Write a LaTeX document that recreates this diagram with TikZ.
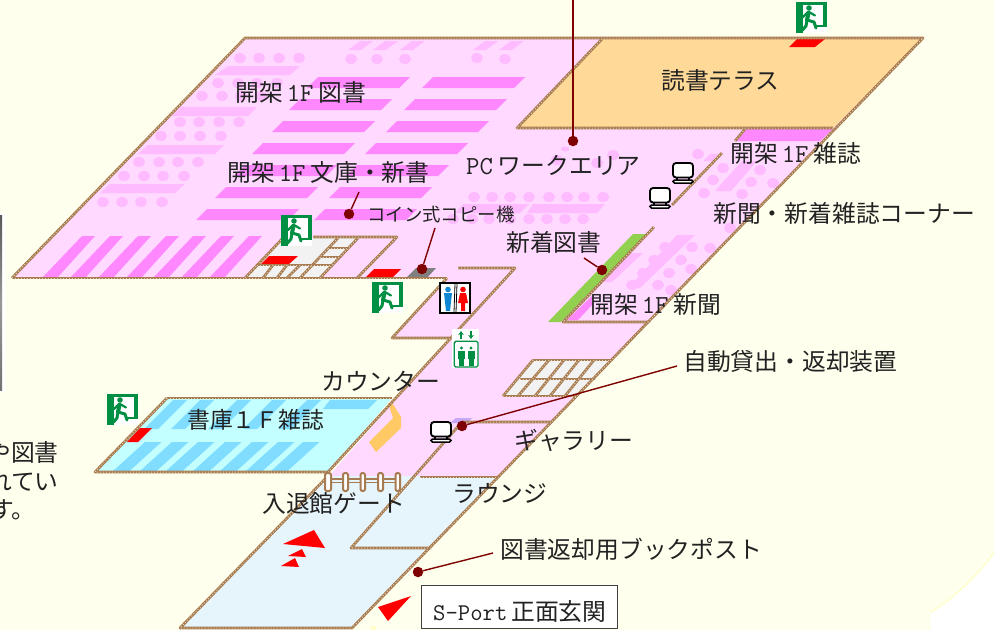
\documentclass[tikz,border=0pt]{standalone}
\usepackage{fontspec}
\setmainfont{Noto Sans CJK JP}
\newcommand\ltn[1]{{\ttfamily\fontsize{26}{26}\selectfont #1}}
\definecolor{cream}{HTML}{FFFFEE}
\definecolor{arcy}{HTML}{FFFFCC}
\definecolor{floorp}{HTML}{FFD9FF}
\definecolor{shelfd}{HTML}{FF88FF}
\definecolor{shelfl}{HTML}{FFBBFF}
\definecolor{terr}{HTML}{FFD998}
\definecolor{lounge}{HTML}{E6F4FB}
\definecolor{store}{HTML}{C4FFFF}
\definecolor{stripe}{HTML}{80DDFF}
\definecolor{ropeb}{HTML}{A87C52}
\definecolor{ropel}{HTML}{E2CDAE}
\definecolor{lead}{HTML}{7E0000}
\definecolor{exitg}{HTML}{008F43}
\definecolor{leaf}{HTML}{92D050}
\definecolor{arrowo}{HTML}{FFC966}
\definecolor{purp}{HTML}{C8A8F8}
\definecolor{txt}{HTML}{222222}
\usetikzlibrary{arrows.meta}
\tikzset{
  rope/.style={draw=ropeb,line width=2.7pt,line join=round,postaction={draw=ropel,line width=1pt,dash pattern=on 1pt off 2pt}},
  dk/.style={fill=shelfd},
  lt/.style={fill=shelfl},
  leaddot/.style={circle,fill=lead,inner sep=0pt,minimum size=10.5pt},
  leadline/.style={draw=lead,line width=1.4pt},
  lab/.style={anchor=west,inner sep=0pt,text=txt,font=\fontsize{23.8}{24}\selectfont},
  storelab/.style={anchor=west,inner sep=0pt,text=txt,font=\fontsize{22.8}{24}\selectfont},
  smalllab/.style={anchor=west,inner sep=0pt,text=txt,font=\fontsize{18.4}{20}\selectfont},
  exitsign/.pic={
    \fill[exitg] (0,0) rectangle (31,31);
    \fill[white] (7,3) rectangle (27,31);
    \fill[white] (27,25) rectangle (31,31);
    \fill[exitg] (13,6) circle (2.8);
    \draw[exitg,line width=4pt,line cap=round,line join=round] (12.5,11) -- (11,18);
    \draw[exitg,line width=3pt,line cap=round,line join=round] (11,18) -- (18,20) -- (20,26);
    \draw[exitg,line width=3pt,line cap=round,line join=round] (11,18) -- (10,24) -- (6.5,28);
    \draw[exitg,line width=2.2pt,line cap=round,line join=round] (13,10) -- (19,13.5);
    \draw[exitg,line width=2.2pt,line cap=round,line join=round] (12,10) -- (7,15);
    \fill[exitg] (20,22.5) rectangle (31,25);
  },
  pcicon/.pic={
    \draw[black,fill=white,line width=1.8pt,rounded corners=3pt] (1,1) rectangle (21,15.5);
    \draw[black,fill=white,line width=1.5pt,rounded corners=1.5pt] (1,18) rectangle (21,21);
    \draw[black,line width=1.5pt] (5,15.5) -- (5,18) (17,15.5) -- (17,18);
  },
  wcicon/.pic={
    \draw[black,fill=white,line width=1.2pt] (0,0) rectangle (30,30);
    \draw[black,line width=0.8pt] (15,1) -- (14,29) (17,1) -- (16,29);
    \fill[cyan!70!blue] (8,6.5) circle (2.8);
    \fill[cyan!70!blue] (4,10) -- (12,10) -- (11,19) -- (10,28) -- (6,28) -- (5,19) -- cycle;
    \fill[red] (23,6.5) circle (2.8);
    \fill[red] (20,10) -- (26,10) -- (28,20) -- (25,20) -- (25,28) -- (21,28) -- (21,20) -- (18,20) -- cycle;
  },
  eleicon/.pic={
    \fill[white] (0,0) rectangle (27,39);
    \draw[exitg,line width=1.8pt,-{Stealth[length=4pt,width=5.5pt]}] (9,10) -- (9,2);
    \draw[exitg,line width=1.8pt,-{Stealth[length=4pt,width=5.5pt]}] (19,2) -- (19,10);
    \draw[exitg,line width=1.3pt,rounded corners=1.5pt] (2.3,12.3) rectangle (26,38);
    \foreach \px in {9.5,19}{
      \fill[exitg] (\px,19) circle (1.7);
      \fill[exitg] (\px-3.5,21.5) rectangle (\px+3.5,30);
      \fill[exitg] (\px-2.5,30) rectangle (\px+2.5,36.5);
    }
  },
}
\begin{document}
\begin{tikzpicture}[x=1pt,y=-1pt]
\useasboundingbox (0,0) rectangle (994,630);
% background
\fill[white] (0,0) rectangle (994,630);
\fill[cream] (0,0) -- (994,0) -- (994,553) .. controls (975,578) and (955,597) .. (931,612) -- (931,630) -- (0,630) -- cycle;
\draw[arcy,line width=1.5pt] (994,553) .. controls (975,578) and (955,597) .. (931,612);
\fill[arcy] (371,626) rectangle (376,630);
% photo sliver
\fill[white] (0,213) rectangle (5,392);
\shade[top color=black!65,bottom color=black!55,middle color=black!40] (0,215) rectangle (2,390);
% floors
\fill[floorp] (245,38) -- (923,38) -- (498,477) -- (328,477) -- (450,338) -- (392,338) -- (447,278) -- (12,278) -- cycle;
\fill[lounge] (180,628) -- (330,476) -- (498,476) -- (352,628) -- cycle;
\fill[store] (167,398) -- (392,398) -- (328,472) -- (95,472) -- cycle;
\fill[terr] (602,38) -- (923,38) -- (833,128) -- (517,128) -- cycle;
% left shelves dark
\foreach \tl/\ty in {318/77,300/99,283/121,263/143,245/165,226/187,207/209,433/77,415/99,397/121,376/143,357/165,340/187,325/209}
  \fill[dk] (\tl,\ty) -- ++(92,0) -- ++(-11,11) -- ++(-92,0) -- cycle;
% top small shelves
\foreach \bl in {348,373,400,473,499}
  \fill[lt] (\bl,50) -- ++(12,-9) -- ++(13,0) -- ++(-12,9) -- cycle;
\foreach \cx/\cy in {351/59,377/59,405/59,477/58,505/59,
  240/58,259/58,279/58,299/58,
  218/83,238/83,257/83,277/83,202/96,222/96,241/96,261/96,
  180/122,199/122,219/122,239/122,161/136,180/136,200/136,221/136,
  139/162,159/162,178/162,198/162,124/176,144/176,163/176,184/176,
  103/202,122/202,141/202,162/202,
  474/197,492/197,510/197,529/197,549/197,567/197,584/197,603/197,
  453/219,472/219,489/219,510/219,529/219,547/219,565/219,583/219,
  557/160,597/163,613/155,
  698/154,723/168,713/180,704/193,760/170,751/182,742/194,773/183,730/228,
  665/247,654/260,643/273,632/285,692/247,681/260,669/273,658/285,710/248,691/269,671/290}
  \fill[lt] (\cx,\cy) ellipse (6 and 5);
\fill[lt] (565,149) ellipse (4 and 2.5);
\fill[lt] (228,66) -- (300,66) -- (290,75) -- (215,75) -- cycle;
\fill[lt] (181,107) -- (257,107) -- (248,116) -- (172,116) -- cycle;
\fill[lt] (148,145) -- (224,145) -- (215,154) -- (138,154) -- cycle;
\fill[lt] (110,184) -- (185,184) -- (175,193) -- (100,193) -- cycle;
\fill[lt] (463,204) -- (529,204) -- (520,213) -- (455,213) -- cycle;
\fill[lt] (533,204) -- (605,204) -- (597,213) -- (527,213) -- cycle;
\fill[lt] (703,161) -- (710,154) -- (718,154) -- (712,161) -- cycle;
\fill[lt] (715,191) -- (731,191) -- (757,161) -- (742,161) -- cycle;
\fill[lt] (600,282) -- (612,282) -- (643,253) -- (627,253) -- cycle;
\fill[lt] (628,288) -- (677,235) -- (695,235) -- (640,288) -- cycle;
% diagonal stripes
\foreach \tl in {82,110,138,166,193,221,249}
  \fill[dk] (\tl,236) -- ++(13,0) -- (\tl-24,277) -- (\tl-39,277) -- cycle;
% magazine strip, green strip
\fill[dk] (745,129) -- (833,129) -- (820,141) -- (735,141) -- cycle;
\fill[leaf] (633,234) -- (646,234) -- (561,322) -- (548,322) -- cycle;
\fill[dk] (567,320) -- (578,320) -- (592,305) -- (592,296) -- cycle;
% store stripes
\foreach \tl in {145,172,198,225,252,278,303}
  \fill[stripe] (\tl,442) -- ++(16.5,0) -- (\tl-15.5,471) -- (\tl-32,471) -- cycle;
\fill[stripe] (330,400) -- (377,400) -- (368,409) -- (323,409) -- cycle;
\foreach \tl in {173,200,237,272,307}
  \fill[stripe] (\tl,400) -- ++(14,0) -- (\tl-15,429) -- (\tl-29,429) -- cycle;
% stair fills
\fill[black!5] (283,238) -- (358,238) -- (320,277) -- (245,277) -- cycle;
\fill[black!5] (533,360) -- (610,360) -- (577,396) -- (503,396) -- cycle;
% red mats, grey, purple
\fill[red] (260,265) -- (288,265) -- (298,256) -- (269,256) -- cycle;
\fill[red] (365,278) -- (392,278) -- (401,269) -- (374,269) -- cycle;
\fill[red] (789,47) -- (815,47) -- (825,39) -- (797,39) -- cycle;
\fill[red] (127,442) -- (138,442) -- (152,428) -- (140,428) -- cycle;
\fill[black!50] (406,278) -- (427,278) -- (436,268) -- (416,268) -- cycle;
\fill[purp] (450,423) -- (456,418) -- (472,418) -- (467,423) -- cycle;
% orange arrow
\fill[arrowo] (369,442) -- (393,418) -- (388,403) -- (393,404) -- (401,417) -- (401,428) -- (376,452) -- cycle;
% walls
\path[rope] (12,278) -- (447,278);
\path[rope] (12,278) -- (245,38) -- (923,38) -- (352,628) -- (180,628) -- (328,476);
\path[rope] (602,39) -- (517,128) -- (833,128);
\path[rope] (735,141) -- (745,129);
\path[rope] (722,153) -- (672,205);
\path[rope] (654,227) -- (563,322) -- (648,322);
\path[rope] (447,278) -- (392,338) -- (450,338);
\path[rope] (458,268) -- (515,268) -- (328,472);
\path[rope] (167,398) -- (392,398);
\path[rope] (167,398) -- (95,472) -- (328,472);
\path[rope] (551,422) -- (462,422) -- (351,548) -- (431,548);
\path[rope] (420,477) -- (498,477);
% stairs left
\path[rope] (283,238) -- (245,278);
\path[rope] (313,237) -- (397,237) -- (357,278);
\path[rope] (358,238) -- (320,278);
\path[rope] (338,238) -- (300,278);
\path[rope] (328,248) -- (349,248);
\path[rope] (320,257) -- (340,257);
\path[rope] (257,265) -- (332,265);
\path[rope] (273,265) -- (263,278);
\path[rope] (287,265) -- (277,278);
\path[rope] (300,265) -- (287,278);
% stairs right
\path[rope] (533,360) -- (610,360);
\path[rope] (503,396) -- (577,396);
\path[rope] (520,379) -- (595,379);
\path[rope] (533,360) -- (503,396);
\path[rope] (549,360) -- (518,396);
\path[rope] (564,360) -- (535,396);
\path[rope] (579,360) -- (550,396);
\path[rope] (594,360) -- (565,396);
% gate
\draw[ropeb,line width=1.6pt] (328,479) -- (398,479) (328,482.5) -- (398,482.5);
\foreach \gx/\gw in {325/6,343/5,360.5/4.5,378/5,395.5/4.5}
  \draw[ropeb,fill=white,line width=2pt,rounded corners=2pt] (\gx,473) rectangle (\gx+\gw,491);
% red arrows
\fill[red] (283,544) -- (314,530) -- (325,548) -- cycle;
\fill[red] (288,556) -- (302,549) -- (306,557) -- cycle;
\fill[red] (281,566) -- (295,558) -- (299,567) -- cycle;
\fill[red] (378,607) -- (411,596) -- (388,621) -- cycle;
% icons
\pic (ex1) at (796,2) {exitsign};
\pic (ex2) at (281,215) {exitsign};
\pic (ex3) at (372,282) {exitsign};
\pic (ex4) at (107,394) {exitsign};
\pic (wc) at (440,283) {wcicon};
\pic (ele) at (452,329) {eleicon};
\pic (pc1) at (672,162) {pcicon};
\pic (pc2) at (649,187) {pcicon};
\pic (pc3) at (430,421) {pcicon};
% leaders
\node[leaddot] (d1) at (573,141) {};
\coordinate (e1) at (573,0);
\draw[leadline] (d1) -- (e1);
\node[leaddot] (d2) at (349,214) {};
\coordinate (e2) at (359,192);
\draw[leadline] (d2) -- (e2);
\node[leaddot] (d3) at (422,269) {};
\coordinate (e3) at (435,228);
\draw[leadline] (d3) -- (e3);
\node[leaddot] (d4) at (602,270) {};
\coordinate (e4) at (584,258);
\draw[leadline] (d4) -- (e4);
\node[leaddot] (d5) at (462,426) {};
\coordinate (e5) at (677,366);
\draw[leadline] (d5) -- (e5);
\node[leaddot] (d6) at (418,572) {};
\coordinate (e6) at (493,553);
\draw[leadline] (d6) -- (e6);
% labels
\node[lab] (t1) at (235,92) {開架\hspace{4pt}\ltn{1F}\hspace{5pt}図書};
\node[lab] (t2) at (227,172) {開架\hspace{4pt}\ltn{1F}\hspace{5pt}文庫・新書};
\node[lab] (t3) at (466,165) {\ltn{PC}\hspace{5pt}ワークエリア};
\node[lab] (t4) at (661,80) {読書テラス};
\node[lab] (t5) at (730,153) {開架\hspace{4pt}\ltn{1F}\hspace{5pt}雑誌};
\node[lab] (t6) at (713,213) {新聞・新着雑誌コーナー};
\node[lab] (t7) at (506,242) {新着図書};
\node[lab] (t8) at (590,305) {開架\hspace{4pt}\ltn{1F}\hspace{5pt}新聞};
\node[smalllab] (t9) at (367,215) {コイン式コピー機};
\node[lab] (t10) at (683,361) {自動貸出・返却装置};
\node[lab] (t11) at (321,381) {カウンター};
\node[storelab] (t12) at (187,420) {書庫１Ｆ雑誌};
\node[lab] (t13) at (514,440) {ギャラリー};
\node[lab] (t14) at (452,493) {ラウンジ};
\node[lab] (t15) at (262,503) {入退館ゲート};
\node[lab] (t16) at (500,549) {図書返却用ブックポスト};
\draw[black!75,fill=white,line width=0.8pt] (421,585) rectangle (617,628);
\node[lab] (t17) at (433,612) {{\ttfamily\fontsize{24}{24}\selectfont S-Port}\hspace{4pt}正面玄関};
\node[lab,anchor=east] (t18) at (59,452) {や図書};
\node[lab,anchor=east] (t19) at (59,481) {れてい};
\node[lab,anchor=east] (t20) at (36,510) {す。};
\end{tikzpicture}
\end{document}
